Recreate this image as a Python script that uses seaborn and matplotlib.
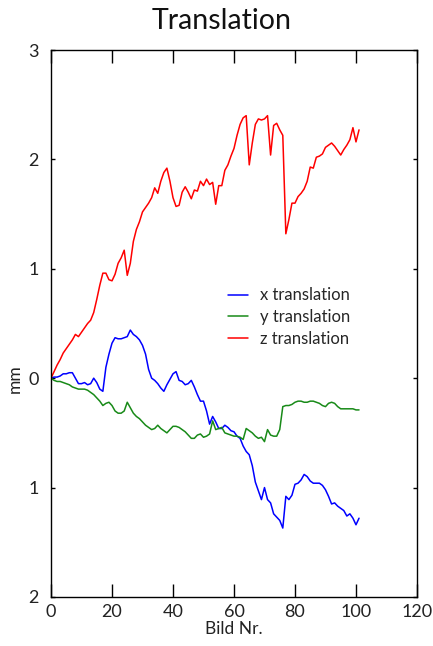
import numpy as np
import pandas as pd
import matplotlib
matplotlib.use("Agg")
import matplotlib.pyplot as plt
import seaborn as sns
from matplotlib.lines import Line2D

frames = list(range(102))

x_translation = [0.00, 0.01, 0.01, 0.02, 0.04, 0.04, 0.05, 0.05, 0.00, -0.05,
                 -0.05, -0.04, -0.06, -0.05, 0.00, -0.04, -0.10, -0.12, 0.10, 0.22,
                 0.32, 0.37, 0.36, 0.36, 0.37, 0.38, 0.44, 0.40, 0.38, 0.35,
                 0.30, 0.22, 0.08, 0.00, -0.02, -0.05, -0.09, -0.12, -0.06, -0.01,
                 0.04, 0.06, -0.02, -0.03, -0.06, -0.05, -0.02, -0.08, -0.15, -0.21,
                 -0.21, -0.30, -0.42, -0.35, -0.40, -0.46, -0.46, -0.43, -0.45, -0.48,
                 -0.49, -0.53, -0.55, -0.62, -0.67, -0.70, -0.80, -0.95, -1.03, -1.11,
                 -1.00, -1.11, -1.14, -1.24, -1.27, -1.30, -1.37, -1.08, -1.11, -1.07,
                 -0.97, -0.96, -0.93, -0.88, -0.90, -0.94, -0.96, -0.96, -0.96, -0.98,
                 -1.02, -1.08, -1.15, -1.14, -1.17, -1.19, -1.21, -1.26, -1.24, -1.28,
                 -1.34, -1.28]

y_translation = [0.00, -0.02, -0.03, -0.03, -0.04, -0.05, -0.06, -0.08, -0.09, -0.10,
                 -0.10, -0.10, -0.11, -0.13, -0.15, -0.18, -0.21, -0.25, -0.23, -0.22,
                 -0.25, -0.30, -0.32, -0.32, -0.30, -0.22, -0.27, -0.32, -0.35, -0.37,
                 -0.40, -0.43, -0.45, -0.47, -0.46, -0.43, -0.46, -0.48, -0.50, -0.47,
                 -0.44, -0.44, -0.45, -0.47, -0.49, -0.52, -0.55, -0.55, -0.52, -0.51,
                 -0.54, -0.53, -0.51, -0.39, -0.47, -0.46, -0.45, -0.50, -0.51, -0.52,
                 -0.53, -0.53, -0.54, -0.56, -0.46, -0.48, -0.50, -0.53, -0.55, -0.54,
                 -0.58, -0.47, -0.52, -0.53, -0.53, -0.47, -0.26, -0.25, -0.25, -0.24,
                 -0.22, -0.21, -0.21, -0.22, -0.22, -0.21, -0.21, -0.22, -0.23, -0.25,
                 -0.26, -0.23, -0.22, -0.23, -0.26, -0.28, -0.28, -0.28, -0.28, -0.28,
                 -0.29, -0.29]

z_translation = [0.00, 0.06, 0.12, 0.17, 0.23, 0.27, 0.31, 0.35, 0.40, 0.38,
                 0.42, 0.46, 0.50, 0.53, 0.60, 0.72, 0.85, 0.96, 0.96, 0.90,
                 0.89, 0.95, 1.05, 1.10, 1.17, 0.94, 1.05, 1.25, 1.36, 1.43,
                 1.52, 1.56, 1.60, 1.65, 1.74, 1.69, 1.80, 1.88, 1.92, 1.80,
                 1.65, 1.57, 1.58, 1.70, 1.75, 1.70, 1.64, 1.72, 1.71, 1.80,
                 1.76, 1.82, 1.77, 1.79, 1.59, 1.76, 1.76, 1.90, 1.95, 2.03,
                 2.10, 2.22, 2.32, 2.38, 2.40, 1.95, 2.15, 2.32, 2.37, 2.36,
                 2.37, 2.40, 2.04, 2.31, 2.33, 2.27, 2.22, 1.32, 1.45, 1.60,
                 1.60, 1.66, 1.69, 1.73, 1.80, 1.93, 1.92, 2.02, 2.03, 2.05,
                 2.11, 2.13, 2.15, 2.12, 2.08, 2.04, 2.09, 2.13, 2.18, 2.29,
                 2.16, 2.27]

series_names = ["x translation", "y translation", "z translation"]
series_colors = ["#0000ff", "#188a18", "#ff0000"]

x_ticks = [0, 20, 40, 60, 80, 100, 120]
y_ticks = [3, 2, 1, 0, -1, -2]
y_tick_labels = ["3", "2", "1", "0", "1", "2"]

df = pd.DataFrame({
    "frame": frames * 3,
    "value": x_translation + y_translation + z_translation,
    "series": [series_names[0]] * len(frames) + [series_names[1]] * len(frames)
              + [series_names[2]] * len(frames),
})

sns.set_theme(style="white")
plt.rcParams["font.family"] = ["Lato", "DejaVu Sans"]

fig = plt.figure(figsize=(4.33, 6.46), dpi=100)
ax = fig.add_axes([0.1178, 0.0759, 0.963 - 0.1178, 0.9226 - 0.0759])

sns.lineplot(data=df, x="frame", y="value", hue="series",
             palette=dict(zip(series_names, series_colors)),
             linewidth=1.1, ax=ax, legend=False)

ax.set_xlim(0, 120)
ax.set_ylim(-2, 3)
ax.set_xticks(x_ticks)
ax.set_xticklabels([str(t) for t in x_ticks])
ax.set_yticks(y_ticks)
ax.set_yticklabels(y_tick_labels)

for s in ax.spines.values():
    s.set_visible(True)
    s.set_color("black")
    s.set_linewidth(1.0)

ax.tick_params(axis="x", direction="in", length=9.5, width=1.0, top=True,
               bottom=True, labelsize=13, pad=5, colors="black")
ax.tick_params(axis="y", direction="in", length=3, width=1.0, left=True,
               right=True, labelsize=13, pad=9, colors="black")
for lbl in ax.get_xticklabels() + ax.get_yticklabels():
    lbl.set_color("#222222")

ax.set_xlabel("Bild Nr.", fontsize=12.5, labelpad=1, color="#222222")
ax.set_ylabel("mm", fontsize=12.5, color="#222222")
ax.yaxis.set_label_coords(-0.078, 0.4)
fig.text(0.512, 0.968, "Translation", fontsize=20.5, ha="center", va="center",
         color="#111111")

handles = [Line2D([0], [0], color=c, lw=1.1) for c in series_colors]
ax.legend(handles, series_names, loc="center left",
          bbox_to_anchor=(0.527, 0.509), bbox_transform=fig.transFigure,
          frameon=False, fontsize=12, handlelength=1.2, handletextpad=0.7,
          labelspacing=0.35, borderpad=0, borderaxespad=0)

fig.savefig("out.png", dpi=100)
